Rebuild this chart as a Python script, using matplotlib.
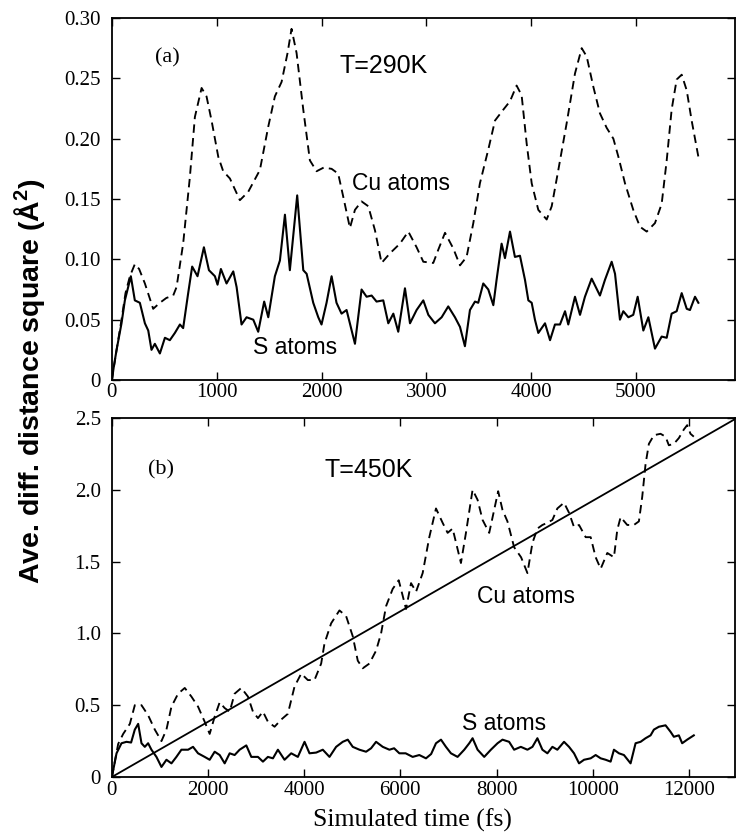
import numpy as np
import matplotlib.pyplot as plt

# ---------------- dados ----------------

# (a) T=290K
t_cu_a = [0, 45, 92, 130, 172, 219, 260, 315, 394, 458, 520, 585, 617, 680, 744, 792, 856, 903, 951,
          1015, 1062, 1126, 1221, 1301, 1412, 1492, 1555, 1619, 1676, 1714, 1762, 1826, 1889, 1953,
          2020, 2096, 2159, 2207, 2271, 2319, 2382, 2446, 2510, 2573, 2653, 2748, 2828, 2907, 2971,
          3066, 3114, 3178, 3257, 3321, 3384, 3448, 3511, 3591, 3655, 3734, 3798, 3861, 3909, 3957,
          4005, 4068, 4148, 4196, 4259, 4339, 4418, 4482, 4530, 4593, 4656, 4720, 4784, 4832, 4895,
          4974, 5038, 5102, 5181, 5245, 5293, 5340, 5388, 5436, 5484, 5531, 5595]
v_cu_a = [0.0, 0.025, 0.050, 0.072, 0.086, 0.096, 0.092, 0.080, 0.059, 0.064, 0.068, 0.070, 0.077,
          0.113, 0.168, 0.218, 0.242, 0.235, 0.215, 0.185, 0.173, 0.167, 0.149, 0.156, 0.174, 0.210,
          0.235, 0.247, 0.271, 0.291, 0.271, 0.224, 0.182, 0.173, 0.176, 0.175, 0.171, 0.152, 0.126,
          0.141, 0.148, 0.144, 0.124, 0.097, 0.105, 0.113, 0.123, 0.110, 0.098, 0.097, 0.108, 0.122,
          0.109, 0.095, 0.102, 0.130, 0.163, 0.191, 0.215, 0.224, 0.231, 0.244, 0.236, 0.196, 0.163,
          0.141, 0.133, 0.144, 0.174, 0.213, 0.254, 0.275, 0.268, 0.243, 0.221, 0.209, 0.200, 0.185,
          0.163, 0.141, 0.127, 0.123, 0.130, 0.146, 0.182, 0.224, 0.249, 0.253, 0.240, 0.215, 0.185]

t_s_a = [0, 20, 45, 92, 124, 181, 219, 267, 315, 347, 378, 410, 458, 506, 553, 601, 649, 680, 728,
         766, 817, 878, 926, 983, 1008, 1040, 1094, 1158, 1190, 1237, 1285, 1349, 1396, 1453, 1492,
         1555, 1603, 1651, 1698, 1768, 1826, 1858, 1921, 1969, 2000, 2048, 2096, 2143, 2191, 2239,
         2319, 2382, 2430, 2478, 2525, 2589, 2637, 2685, 2732, 2796, 2844, 2907, 2971, 3019, 3082,
         3146, 3209, 3273, 3321, 3368, 3416, 3464, 3495, 3543, 3591, 3639, 3670, 3718, 3750, 3798,
         3845, 3893, 3941, 3973, 4005, 4036, 4068, 4132, 4180, 4227, 4275, 4323, 4354, 4418, 4466,
         4513, 4577, 4656, 4704, 4768, 4800, 4847, 4879, 4927, 4974, 5016, 5070, 5118, 5181, 5245,
         5293, 5340, 5388, 5436, 5484, 5515, 5563, 5595]
v_s_a = [0.0, 0.012, 0.025, 0.047, 0.066, 0.086, 0.066, 0.064, 0.047, 0.041, 0.025, 0.030, 0.022,
         0.035, 0.033, 0.039, 0.046, 0.043, 0.072, 0.094, 0.086, 0.110, 0.091, 0.086, 0.079, 0.092,
         0.080, 0.090, 0.077, 0.046, 0.052, 0.050, 0.040, 0.065, 0.052, 0.086, 0.099, 0.137, 0.091,
         0.153, 0.091, 0.088, 0.064, 0.052, 0.046, 0.064, 0.086, 0.064, 0.055, 0.058, 0.030, 0.075,
         0.069, 0.070, 0.065, 0.066, 0.047, 0.055, 0.040, 0.076, 0.047, 0.058, 0.066, 0.054, 0.047,
         0.052, 0.061, 0.052, 0.044, 0.028, 0.058, 0.065, 0.064, 0.080, 0.075, 0.062, 0.083, 0.113,
         0.101, 0.123, 0.102, 0.103, 0.083, 0.066, 0.064, 0.050, 0.039, 0.047, 0.033, 0.046, 0.046,
         0.057, 0.046, 0.069, 0.054, 0.069, 0.084, 0.070, 0.083, 0.098, 0.088, 0.050, 0.057, 0.052,
         0.054, 0.069, 0.041, 0.052, 0.026, 0.036, 0.035, 0.055, 0.057, 0.072, 0.059, 0.058, 0.069,
         0.064]

# (b) T=450K
t_cu_b = [0, 131, 235, 374, 477, 616, 754, 893, 1031, 1135, 1239, 1377, 1516, 1654, 1792, 1930,
          2034, 2138, 2242, 2346, 2450, 2553, 2692, 2830, 2934, 3038, 3142, 3245, 3384, 3522, 3660,
          3799, 3938, 4076, 4214, 4353, 4422, 4560, 4733, 4872, 5010, 5114, 5218, 5356, 5495, 5599,
          5703, 5841, 5966, 6050, 6118, 6222, 6326, 6464, 6602, 6741, 6879, 6983, 7087, 7260, 7364,
          7502, 7606, 7710, 7848, 7951, 8034, 8124, 8227, 8366, 8511, 8643, 8747, 8850, 8954, 9058,
          9162, 9265, 9404, 9508, 9612, 9716, 9854, 9958, 10062, 10166, 10304, 10442, 10511, 10581,
          10719, 10857, 10961, 11030, 11100, 11169, 11273, 11411, 11515, 11584, 11688, 11792, 11896,
          11965, 12034, 12103]
v_cu_b = [0.0, 0.23, 0.30, 0.37, 0.50, 0.50, 0.43, 0.33, 0.25, 0.33, 0.49, 0.58, 0.62, 0.56, 0.49,
          0.385, 0.30, 0.42, 0.52, 0.48, 0.455, 0.58, 0.62, 0.56, 0.455, 0.41, 0.455, 0.385, 0.35,
          0.40, 0.44, 0.63, 0.72, 0.675, 0.675, 0.79, 0.93, 1.07, 1.16, 1.12, 0.98, 0.81, 0.757,
          0.79, 0.88, 1.00, 1.19, 1.31, 1.37, 1.26, 1.17, 1.35, 1.29, 1.42, 1.67, 1.87, 1.77, 1.70,
          1.73, 1.49, 1.70, 2.00, 1.93, 1.79, 1.70, 1.86, 1.99, 1.86, 1.78, 1.60, 1.53, 1.42, 1.63,
          1.73, 1.755, 1.77, 1.79, 1.87, 1.91, 1.84, 1.74, 1.755, 1.67, 1.67, 1.53, 1.45, 1.56, 1.53,
          1.72, 1.81, 1.755, 1.755, 1.78, 1.95, 2.18, 2.32, 2.38, 2.39, 2.37, 2.31, 2.32, 2.36, 2.42,
          2.45, 2.39, 2.37]

t_s_b = [0, 97, 200, 304, 400, 477, 547, 616, 685, 754, 823, 927, 1031, 1135, 1239, 1342, 1446,
         1585, 1688, 1792, 1930, 2034, 2138, 2242, 2346, 2450, 2553, 2657, 2796, 2900, 3038, 3142,
         3245, 3350, 3453, 3591, 3730, 3868, 4007, 4110, 4249, 4387, 4526, 4664, 4802, 4906, 5010,
         5149, 5287, 5391, 5495, 5634, 5772, 5870, 5979, 6110, 6256, 6394, 6533, 6640, 6741, 6845,
         6948, 7052, 7190, 7329, 7433, 7502, 7606, 7744, 7883, 8021, 8124, 8262, 8366, 8505, 8643,
         8747, 8850, 8954, 9058, 9162, 9265, 9404, 9508, 9612, 9716, 9820, 9958, 10062, 10166,
         10270, 10373, 10442, 10546, 10650, 10788, 10892, 10996, 11100, 11204, 11273, 11377, 11515,
         11619, 11688, 11792, 11861, 11965, 12103]
v_s_b = [0.0, 0.165, 0.235, 0.245, 0.24, 0.33, 0.37, 0.235, 0.21, 0.235, 0.19, 0.14, 0.07, 0.12,
         0.095, 0.14, 0.19, 0.19, 0.21, 0.165, 0.14, 0.12, 0.176, 0.153, 0.095, 0.165, 0.153, 0.19,
         0.22, 0.14, 0.14, 0.107, 0.14, 0.13, 0.19, 0.12, 0.165, 0.14, 0.245, 0.165, 0.17, 0.19,
         0.14, 0.21, 0.245, 0.26, 0.21, 0.19, 0.176, 0.20, 0.245, 0.21, 0.19, 0.20, 0.165, 0.165,
         0.14, 0.153, 0.13, 0.16, 0.235, 0.26, 0.21, 0.165, 0.14, 0.19, 0.235, 0.27, 0.19, 0.14,
         0.19, 0.235, 0.26, 0.245, 0.19, 0.21, 0.19, 0.21, 0.27, 0.19, 0.165, 0.21, 0.19, 0.245,
         0.21, 0.165, 0.095, 0.12, 0.13, 0.153, 0.13, 0.12, 0.107, 0.19, 0.165, 0.153, 0.095, 0.235,
         0.245, 0.27, 0.29, 0.33, 0.35, 0.36, 0.315, 0.28, 0.29, 0.235, 0.26, 0.29]

# reta de ajuste (b)
t_fit = [0, 13000]
v_fit = [0.0, 2.5]

# ---------------- estilo ----------------
serif = "Liberation Serif"
sans = "Liberation Sans"
plt.rcParams.update({
    "font.family": serif,
    "font.size": 15,
    "xtick.direction": "in",
    "ytick.direction": "in",
    "xtick.top": True,
    "ytick.right": True,
    "xtick.major.size": 6,
    "ytick.major.size": 6,
    "xtick.major.width": 1.0,
    "ytick.major.width": 1.0,
    "axes.linewidth": 1.3,
    "mathtext.fontset": "custom",
    "mathtext.rm": "Liberation Sans:bold",
    "mathtext.bf": "Liberation Sans:bold",
})

fig = plt.figure(figsize=(7.36, 8.40), dpi=100)
ax1 = fig.add_axes([0.152, 0.5476, 0.846, 0.431])
ax2 = fig.add_axes([0.152, 0.075, 0.846, 0.4274])

dash = (0, (4.5, 2.8))

# ---------------- painel (a) ----------------
ax1.plot(t_cu_a, v_cu_a, color="black", lw=1.35, linestyle=dash)
ax1.plot(t_s_a, v_s_a, color="black", lw=1.5)
ax1.set_xlim(0, 5940)
ax1.set_ylim(0, 0.30)
ax1.set_xticks([0, 1000, 2000, 3000, 4000, 5000])
ax1.set_yticks([0, 0.05, 0.10, 0.15, 0.20, 0.25, 0.30])
ax1.set_yticklabels(["0", "0.05", "0.10", "0.15", "0.20", "0.25", "0.30"])
ax1.tick_params(axis="x", pad=2)
ax1.tick_params(axis="y", pad=8)

ax1.text(534, 0.267, "(a)", fontsize=16, ha="center", va="center")
ax1.text(2176, 0.260, "T=290K", family=sans, fontsize=18, ha="left", va="center")
ax1.text(2290, 0.163, "Cu atoms", family=sans, fontsize=16.5, ha="left", va="center")
ax1.text(1345, 0.027, "S atoms", family=sans, fontsize=16.5, ha="left", va="center")

# ---------------- painel (b) ----------------
ax2.plot(t_cu_b, v_cu_b, color="black", lw=1.35, linestyle=dash)
ax2.plot(t_s_b, v_s_b, color="black", lw=1.5)
ax2.plot(t_fit, v_fit, color="black", lw=1.3)
ax2.set_xlim(0, 12950)
ax2.set_ylim(0, 2.5)
ax2.set_xticks([0, 2000, 4000, 6000, 8000, 10000, 12000])
ax2.set_yticks([0, 0.5, 1.0, 1.5, 2.0, 2.5])
ax2.set_yticklabels(["0", "0.5", "1.0", "1.5", "2.0", "2.5"])
ax2.tick_params(axis="x", pad=3)
ax2.tick_params(axis="y", pad=8)

ax2.text(1017, 2.14, "(b)", fontsize=16, ha="center", va="center")
ax2.text(4422, 2.14, "T=450K", family=sans, fontsize=18, ha="left", va="center")
ax2.text(7598, 1.26, "Cu atoms", family=sans, fontsize=16.5, ha="left", va="center")
ax2.text(7287, 0.376, "S atoms", family=sans, fontsize=16.5, ha="left", va="center")
ax2.set_xlabel("Simulated time (fs)", fontsize=18.5)
ax2.xaxis.set_label_coords(0.482, -0.088)

fig.text(0.041, 0.546, "Ave. diff. distance square (Å$^{2}$)", family=sans,
         fontweight="bold", fontsize=20.5, rotation=90, ha="center", va="center")

fig.savefig("out.png", dpi=100)
